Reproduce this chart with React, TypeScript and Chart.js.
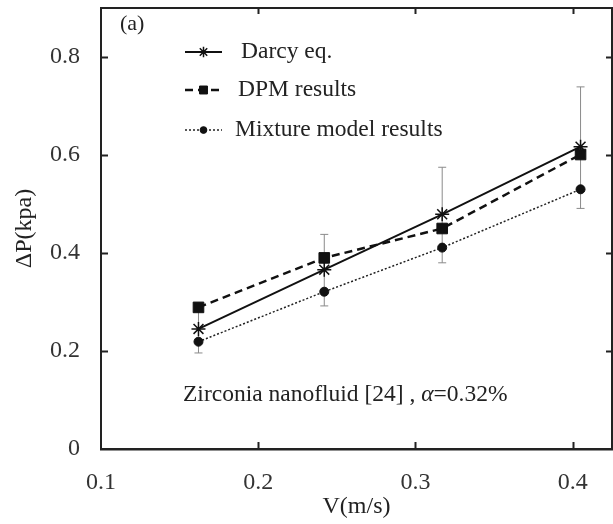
import React, { useEffect, useRef } from 'react';
import { Chart, registerables } from 'chart.js';
import { drawPoint } from 'chart.js/helpers';

Chart.register(...registerables);

// ---- data ----
const velocities = [0.162, 0.242, 0.317, 0.405];
const darcy = [0.245, 0.366, 0.479, 0.617];
const dpm = [0.289, 0.39, 0.45, 0.601];
const mixture = [0.219, 0.321, 0.411, 0.53];
const errLow = [0.196, 0.292, 0.38, 0.491];
const errHigh = [0.294, 0.438, 0.575, 0.739];
const xTicks = [0.1, 0.2, 0.3, 0.4];
const yTicks = [0, 0.2, 0.4, 0.6, 0.8];
const seriesNames = ['Darcy eq.', 'DPM results', 'Mixture model results'];
const xRange = [0.1, 0.425];
const yRange = [0, 0.9];

const SERIF = "'Liberation Serif', 'Times New Roman', serif";

const framePlugin = {
  id: 'frame',
  afterDraw(chart: any) {
    const { ctx, chartArea: a, scales } = chart;
    ctx.save();
    ctx.strokeStyle = '#222';
    ctx.lineWidth = 2;
    ctx.beginPath();
    ctx.moveTo(a.left, a.top);
    ctx.lineTo(a.right, a.top);
    ctx.lineTo(a.right, a.bottom);
    ctx.stroke();
    ctx.beginPath();
    xTicks.forEach((v) => {
      if (v === xRange[0]) return;
      const px = Math.round(scales.x.getPixelForValue(v)) + 0.5;
      ctx.moveTo(px, a.bottom);
      ctx.lineTo(px, a.bottom - 7);
      ctx.moveTo(px, a.top);
      ctx.lineTo(px, a.top + 6);
    });
    yTicks.forEach((v) => {
      if (v === yRange[0]) return;
      const py = Math.round(scales.y.getPixelForValue(v)) + 0.5;
      ctx.moveTo(a.left, py);
      ctx.lineTo(a.left + 7, py);
      ctx.moveTo(a.right, py);
      ctx.lineTo(a.right - 6, py);
    });
    ctx.stroke();
    ctx.restore();
  },
};

const textPlugin = {
  id: 'texts',
  afterDraw(chart: any) {
    const { ctx, chartArea: a } = chart;
    ctx.save();
    ctx.fillStyle = '#222';
    ctx.textBaseline = 'middle';
    ctx.textAlign = 'left';
    // panel label
    ctx.font = `22px ${SERIF}`;
    ctx.fillText('(a)', a.left + 19, a.top + 16);

    // legend
    const rows = [a.top + 44, a.top + 82, a.top + 122];
    const textX = [a.left + 140, a.left + 137, a.left + 134];
    chart.data.datasets.slice(0, 3).forEach((ds: any, i: number) => {
      const y = rows[i];
      const x0 = a.left + 84;
      const x1 = a.left + 121;
      ctx.save();
      ctx.strokeStyle = ds.borderColor;
      ctx.lineWidth = ds.borderWidth;
      ctx.setLineDash(ds.borderDash || []);
      ctx.beginPath();
      ctx.moveTo(x0, y);
      ctx.lineTo(x1, y);
      ctx.stroke();
      ctx.setLineDash([]);
      ctx.fillStyle = ds.pointBackgroundColor;
      ctx.strokeStyle = ds.pointBorderColor;
      ctx.lineWidth = ds.pointBorderWidth;
      drawPoint(ctx, { pointStyle: ds.pointStyle, radius: ds.pointRadius * 0.75, rotation: 0, borderWidth: ds.pointBorderWidth }, (x0 + x1) / 2, y);
      ctx.restore();
      ctx.font = `23.5px ${SERIF}`;
      ctx.fillText(seriesNames[i], textX[i], y);
    });

    // annotation
    const ay = a.top + 387;
    let ax = a.left + 82;
    ctx.font = `23.5px ${SERIF}`;
    const part1 = 'Zirconia nanofluid [24] , ';
    ctx.fillText(part1, ax, ay);
    ax += ctx.measureText(part1).width;
    ctx.font = `italic 23.5px ${SERIF}`;
    ctx.fillText('\u03b1', ax, ay);
    ax += ctx.measureText('\u03b1').width;
    ctx.font = `23.5px ${SERIF}`;
    ctx.fillText('=0.32%', ax, ay);
    ctx.restore();
  },
};

function pts(ys: number[]) {
  return velocities.map((x, i) => ({ x, y: ys[i] }));
}

function errorBarPoints() {
  const out: any[] = [];
  velocities.forEach((x, i) => {
    out.push({ x, y: errLow[i] });
    out.push({ x, y: errHigh[i] });
    out.push({ x, y: null });
  });
  return out;
}

function zeroPad(s: any) {
  s.paddingTop = 0;
  s.paddingBottom = 0;
  s.paddingLeft = 0;
  s.paddingRight = 0;
}

export default function App() {
  const ref = useRef<HTMLCanvasElement | null>(null);

  useEffect(() => {
    if (!ref.current) return;
    const tickFont = { family: SERIF, size: 24 };
    const chart = new Chart(ref.current, {
      type: 'line',
      data: {
        datasets: [
          {
            label: seriesNames[0],
            data: pts(darcy),
            borderColor: '#111',
            borderWidth: 2,
            borderDash: [],
            pointStyle: 'star',
            pointRadius: 7,
            pointBorderWidth: 1.5,
            pointBackgroundColor: '#111',
            pointBorderColor: '#111',
            order: 1,
          },
          {
            label: seriesNames[1],
            data: pts(dpm),
            borderColor: '#111',
            borderWidth: 2.5,
            borderDash: [8, 5],
            pointStyle: 'rect',
            pointRadius: 7.5,
            pointBorderWidth: 1,
            pointBackgroundColor: '#111',
            pointBorderColor: '#111',
            order: 2,
          },
          {
            label: seriesNames[2],
            data: pts(mixture),
            borderColor: '#222',
            borderWidth: 1.5,
            borderDash: [2, 2],
            pointStyle: 'circle',
            pointRadius: 4.5,
            pointBorderWidth: 1,
            pointBackgroundColor: '#111',
            pointBorderColor: '#111',
            order: 3,
          },
          {
            label: 'error',
            data: errorBarPoints(),
            borderColor: '#8a8a8a',
            borderWidth: 1,
            pointStyle: 'line',
            pointRadius: 4,
            pointBorderWidth: 1,
            pointBorderColor: '#8a8a8a',
            spanGaps: false,
            order: 10,
          },
        ] as any,
      },
      options: {
        animation: false,
        responsive: false,
        layout: { autoPadding: false, padding: { left: 0, top: 8, right: 1, bottom: 0 } },
        plugins: { legend: { display: false }, tooltip: { enabled: false } },
        elements: { line: { tension: 0 } },
        scales: {
          x: {
            type: 'linear',
            min: xRange[0],
            max: xRange[1],
            afterFit: (s: any) => { s.height = 75; zeroPad(s); },
            afterBuildTicks: (s: any) => { s.ticks = xTicks.map((v) => ({ value: v })); },
            ticks: { font: tickFont, color: '#333', padding: 19, callback: (v: any) => String(v), maxRotation: 0, autoSkip: false },
            grid: { display: false, drawTicks: false },
            border: { display: true, color: '#222', width: 2.5 },
            title: { display: true, text: 'V(m/s)', font: { family: SERIF, size: 24 }, color: '#222', padding: { top: 0, bottom: 3 } },
          },
          y: {
            type: 'linear',
            min: yRange[0],
            max: yRange[1],
            afterFit: (s: any) => { s.width = 101; zeroPad(s); },
            afterBuildTicks: (s: any) => { s.ticks = yTicks.map((v) => ({ value: v })); },
            ticks: { font: tickFont, color: '#333', padding: 21, callback: (v: any) => String(v), autoSkip: false },
            grid: { display: false, drawTicks: false },
            border: { display: true, color: '#222', width: 2 },
            title: { display: true, text: '\u0394P(kpa)', font: { family: SERIF, size: 24 }, color: '#222', padding: { top: 10, bottom: 0 } },
          },
        },
      } as any,
      plugins: [framePlugin, textPlugin],
    });
    return () => chart.destroy();
  }, []);

  return (
    <div style={{ position: 'absolute', left: 0, top: 0, width: 613, height: 524, background: '#fff' }}>
      <canvas ref={ref} width={613} height={524} />
    </div>
  );
}
